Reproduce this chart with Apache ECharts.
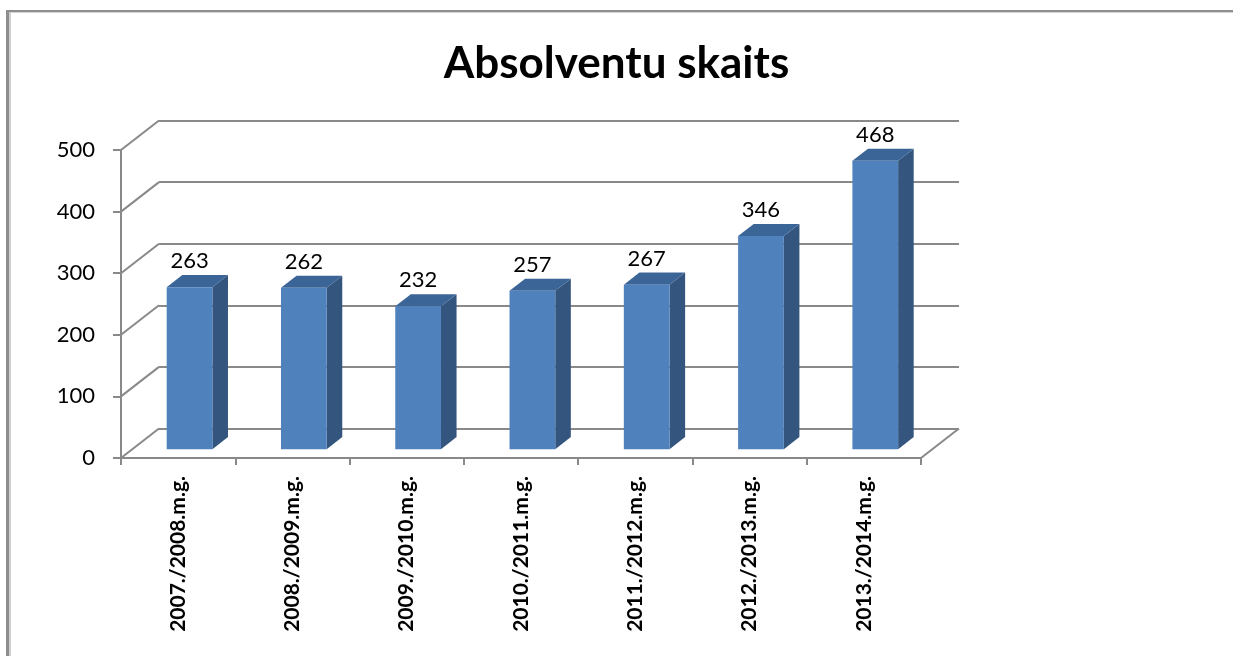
<!DOCTYPE html>
<html>
<head>
<meta charset="utf-8">
<script src="https://cdn.jsdelivr.net/npm/echarts@6/dist/echarts.min.js"></script>
<style>
  html, body { margin: 0; padding: 0; background: #fff; }
  #chart { width: 1233px; height: 656px; }
</style>
</head>
<body>
<div id="chart"></div>
<script>
var categories = ['2007./2008.m.g.', '2008./2009.m.g.', '2009./2010.m.g.', '2010./2011.m.g.',
                  '2011./2012.m.g.', '2012./2013.m.g.', '2013./2014.m.g.'];
var graduates = [263, 262, 232, 257, 267, 346, 468];
var yTicks = [0, 100, 200, 300, 400, 500];

// depth of the 3D box in pixels
var DX = 38, DY = -29.5;
var G = { left: 121, right: 312, top: 150, bottom: 198 };

var gridColor = '#898989';

function wallItem(params, api) {
  var v = api.value(1);
  var band = api.size([1, 0])[0];
  var p = api.coord([0, v]);
  var left = p[0] - band / 2;
  var children = [{
    type: 'line',
    shape: { x1: left, y1: p[1], x2: left + DX, y2: p[1] + DY },
    style: { stroke: gridColor, lineWidth: 2 }
  }];
  if (v === 0) {
    var q = api.coord([categories.length - 1, 0]);
    var right = q[0] + band / 2;
    children.push({
      type: 'line',
      shape: { x1: right, y1: q[1], x2: right + DX, y2: q[1] + DY },
      style: { stroke: gridColor, lineWidth: 2 }
    });
  }
  return { type: 'group', children: children };
}

function barItem(params, api) {
  var idx = api.value(0);
  var v = api.value(1);
  var band = api.size([1, 0])[0];
  var base = api.coord([idx, 0]);
  var top = api.coord([idx, v]);
  var w = band * 0.4;
  var f0 = 0.3, f1 = 0.71;
  var x1 = base[0] - w / 2 + DX * f0;
  var x2 = x1 + w;
  var yb = base[1] + DY * f0;
  var yt = top[1] + DY * f0;
  var ddx = DX * (f1 - f0), ddy = DY * (f1 - f0);
  return {
    type: 'group',
    children: [{
      type: 'polygon',
      shape: { points: [[x2, yb], [x2 + ddx, yb + ddy], [x2 + ddx, yt + ddy], [x2, yt]] },
      style: { fill: '#34557e' }
    }, {
      type: 'polygon',
      shape: { points: [[x1, yt], [x2, yt], [x2 + ddx, yt + ddy], [x1 + ddx, yt + ddy]] },
      style: { fill: '#3c6597' }
    }, {
      type: 'rect',
      shape: { x: x1, y: yt, width: w, height: yb - yt },
      style: { fill: '#4f81bd' }
    }, {
      type: 'text',
      style: {
        text: String(v), x: (x1 + x2) / 2, y: yt - 26,
        align: 'center', verticalAlign: 'middle',
        fontFamily: 'Lato', fontSize: 22, fill: '#000'
      }
    }]
  };
}

var chart = echarts.init(document.getElementById('chart'));
chart.setOption({
  animation: false,
  backgroundColor: '#fff',
  title: {
    text: 'Absolventu skaits',
    left: 'center',
    top: 37,
    textStyle: { fontFamily: 'Lato', fontSize: 44, fontWeight: 'bold', color: '#000' }
  },
  graphic: [
    { type: 'rect', shape: { x: 6, y: 10, width: 1227, height: 2 }, style: { fill: '#8e8e8e' } },
    { type: 'rect', shape: { x: 6, y: 12, width: 1227, height: 1 }, style: { fill: '#d4d4d4' } },
    { type: 'rect', shape: { x: 6, y: 10, width: 3, height: 646 }, style: { fill: '#8e8e8e' } },
    { type: 'rect', shape: { x: 9, y: 12, width: 2, height: 644 }, style: { fill: '#cfcfcf' } }
  ],
  grid: [
    { left: G.left, right: G.right, top: G.top, bottom: G.bottom },
    { left: G.left + DX, right: G.right - DX, top: G.top + DY, bottom: G.bottom - DY }
  ],
  xAxis: [{
    type: 'category',
    gridIndex: 0,
    data: categories,
    axisLine: { lineStyle: { color: gridColor, width: 2 } },
    axisTick: { show: true, length: 7, lineStyle: { color: gridColor, width: 2 } },
    axisLabel: {
      rotate: 90, margin: 18, color: '#000',
      fontFamily: 'Lato', fontSize: 21, fontWeight: 'bold'
    }
  }, {
    type: 'category',
    gridIndex: 1,
    data: categories,
    show: false
  }],
  yAxis: [{
    type: 'value',
    gridIndex: 0,
    min: 0, max: 500, interval: 100,
    axisLine: { show: true, lineStyle: { color: gridColor, width: 2 } },
    axisTick: { show: true, length: 8, lineStyle: { color: gridColor, width: 2 } },
    axisLabel: { margin: 26, color: '#000', fontFamily: 'Lato', fontSize: 22 },
    splitLine: { show: false }
  }, {
    type: 'value',
    gridIndex: 1,
    min: 0, max: 500, interval: 100,
    axisLine: { show: false },
    axisTick: { show: false },
    axisLabel: { show: false },
    splitLine: { show: true, lineStyle: { color: gridColor, width: 2 } }
  }],
  series: [{
    type: 'custom',
    name: 'wall',
    xAxisIndex: 0, yAxisIndex: 0,
    renderItem: wallItem,
    data: yTicks.map(function (v) { return [0, v]; }),
    silent: true,
    z: 1
  }, {
    type: 'custom',
    name: 'Absolventi',
    xAxisIndex: 0, yAxisIndex: 0,
    renderItem: barItem,
    data: graduates.map(function (v, i) { return [i, v]; }),
    z: 3
  }]
});
</script>
</body>
</html>
